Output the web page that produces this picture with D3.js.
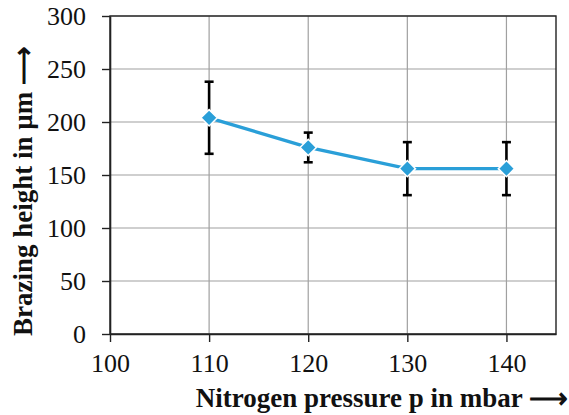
<!DOCTYPE html>
<html>
<head>
<meta charset="utf-8">
<script src="https://cdn.jsdelivr.net/npm/d3@7"></script>
<style>
  body { margin: 0; background: #fff; }
  .chart { width: 569px; height: 415px; }
  text { font-family: "Liberation Serif", "Times New Roman", serif; fill: #111; }
</style>
</head>
<body>
<div class="chart"></div>
<script>
// data
let pressures = [110, 120, 130, 140];
let heights = [204, 176, 156, 156];
let errors = [34, 14, 25, 25];
let xTicks = [100, 110, 120, 130, 140];
let yTicks = [0, 50, 100, 150, 200, 250, 300];

let chart = {};

init();

function init() {
    setDimensions();
    setScales();
    appendElements();
}

function setDimensions() {
    chart.margin = { top: 16, right: 13, bottom: 81, left: 110 };
    chart.width = 569 - chart.margin.left - chart.margin.right;
    chart.height = 415 - chart.margin.top - chart.margin.bottom;
}

function setScales() {
    chart.xScale = d3.scaleLinear()
        .range([0, chart.width])
        .domain([100, 145]);

    chart.yScale = d3.scaleLinear()
        .range([chart.height, 0])
        .domain([0, 300]);
}

function appendElements() {
    chart.svg = d3.select(".chart").append("svg")
        .attr("width", 569)
        .attr("height", 415);

    chart.plot = chart.svg.append("g")
        .attr("transform", `translate(${chart.margin.left},${chart.margin.top})`);

    // gridlines
    chart.plot.append("g")
        .selectAll("line")
        .data(yTicks)
        .join("line")
        .attr("x1", 0).attr("x2", chart.width)
        .attr("y1", d => chart.yScale(d)).attr("y2", d => chart.yScale(d))
        .attr("stroke", "#a0a0a0").attr("stroke-width", 1.2);

    chart.plot.append("g")
        .selectAll("line")
        .data(xTicks.slice(1))
        .join("line")
        .attr("x1", d => chart.xScale(d)).attr("x2", d => chart.xScale(d))
        .attr("y1", 0).attr("y2", chart.height)
        .attr("stroke", "#a0a0a0").attr("stroke-width", 1.2);

    // plot border
    chart.plot.append("rect")
        .attr("width", chart.width).attr("height", chart.height)
        .attr("fill", "none").attr("stroke", "#222").attr("stroke-width", 1.4);

    // axes
    let xAxis = chart.plot.append("g")
        .attr("transform", `translate(0,${chart.height})`)
        .call(d3.axisBottom(chart.xScale).tickValues(xTicks).tickSize(8).tickSizeOuter(0).tickPadding(12));

    let yAxis = chart.plot.append("g")
        .call(d3.axisLeft(chart.yScale).tickValues(yTicks).tickSize(8).tickSizeOuter(0).tickPadding(16));

    [xAxis, yAxis].forEach(a => {
        a.attr("font-family", "Liberation Serif, Times New Roman, serif").attr("font-size", 26);
        a.select(".domain").attr("stroke", "#222").attr("stroke-width", 1.6);
        a.selectAll(".tick line").attr("stroke", "#222").attr("stroke-width", 1.4);
        a.selectAll(".tick text").attr("fill", "#111");
    });
    yAxis.selectAll(".tick text").attr("dy", "0.34em");

    // error bars
    let eb = chart.plot.append("g")
        .selectAll("g")
        .data(pressures.map((p, i) => ({ p: p, h: heights[i], e: errors[i] })))
        .join("g")
        .attr("stroke", "#000").attr("stroke-width", 2.6);

    eb.append("line")
        .attr("x1", d => chart.xScale(d.p)).attr("x2", d => chart.xScale(d.p))
        .attr("y1", d => chart.yScale(d.h - d.e)).attr("y2", d => chart.yScale(d.h + d.e));
    eb.append("line")
        .attr("x1", d => chart.xScale(d.p) - 4.5).attr("x2", d => chart.xScale(d.p) + 4.5)
        .attr("y1", d => chart.yScale(d.h + d.e)).attr("y2", d => chart.yScale(d.h + d.e));
    eb.append("line")
        .attr("x1", d => chart.xScale(d.p) - 4.5).attr("x2", d => chart.xScale(d.p) + 4.5)
        .attr("y1", d => chart.yScale(d.h - d.e)).attr("y2", d => chart.yScale(d.h - d.e));

    // line
    let line = d3.line()
        .x((d, i) => chart.xScale(pressures[i]))
        .y(d => chart.yScale(d));

    chart.plot.append("path")
        .datum(heights)
        .attr("d", line)
        .attr("fill", "none")
        .attr("stroke", "#2a9fd8")
        .attr("stroke-width", 3.4);

    // diamond markers with white outline
    chart.plot.append("g")
        .selectAll("path")
        .data(heights)
        .join("path")
        .attr("d", d3.symbol().type(d3.symbolDiamond2).size(170))
        .attr("transform", (d, i) => `translate(${chart.xScale(pressures[i])},${chart.yScale(d)})`)
        .attr("fill", "#2a9fd8")
        .attr("stroke", "#fff")
        .attr("stroke-width", 1.5);

    // axis titles
    chart.svg.append("text")
        .attr("x", 568).attr("y", 407)
        .attr("text-anchor", "end")
        .style("font-size", "27px").style("font-weight", "bold")
        .text("Nitrogen pressure p in mbar \u27f6");

    chart.svg.append("text")
        .attr("transform", "translate(32,191) rotate(-90)")
        .attr("text-anchor", "middle")
        .style("font-size", "27px").style("font-weight", "bold")
        .text("Brazing height in \u00b5m \u27f6");
}
</script>
</body>
</html>
